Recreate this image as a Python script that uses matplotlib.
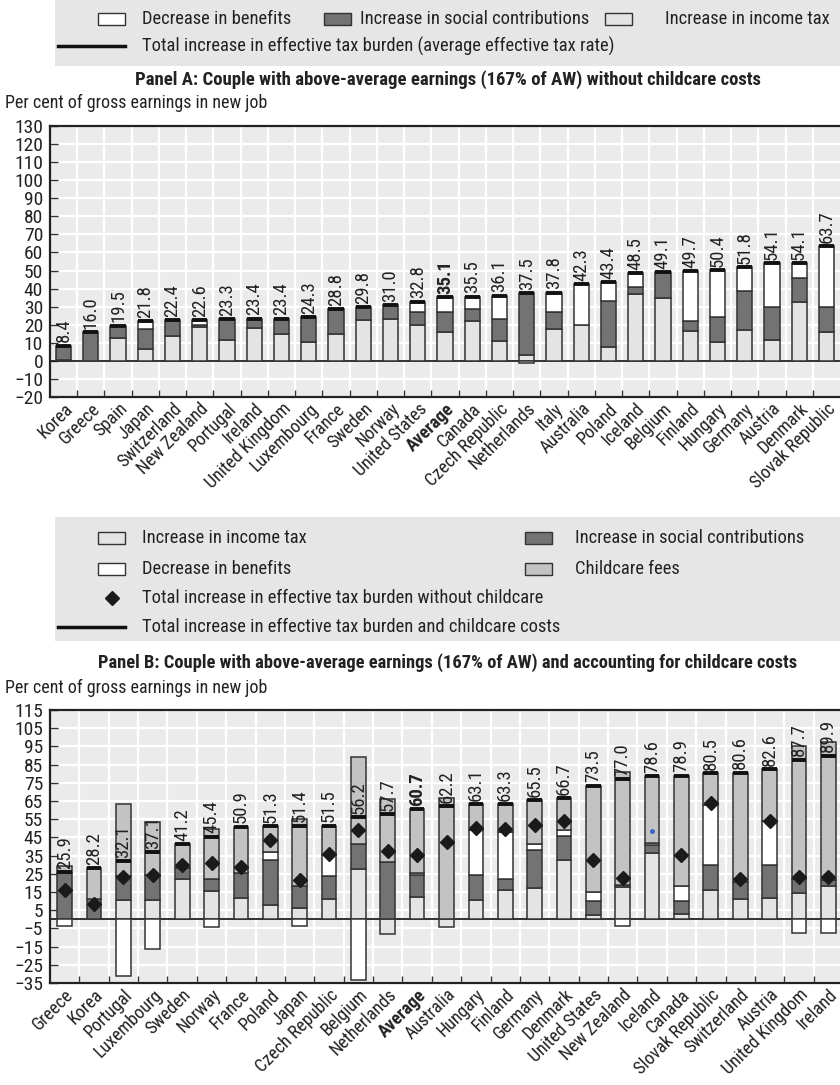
import numpy as np
import matplotlib.pyplot as plt
from matplotlib.patches import Rectangle
from matplotlib.lines import Line2D

plt.rcParams['font.family'] = ['Roboto Condensed', 'Liberation Sans Narrow', 'Roboto', 'DejaVu Sans']
plt.rcParams['text.color'] = '#222222'
plt.rcParams['xtick.color'] = '#222222'
plt.rcParams['ytick.color'] = '#222222'

# Panel A: couple at 167% of AW, no childcare costs
countries_a = ["Korea", "Greece", "Spain", "Japan", "Switzerland", "New Zealand", "Portugal",
               "Ireland", "United Kingdom", "Luxembourg", "France", "Sweden", "Norway",
               "United States", "Average", "Canada", "Czech Republic", "Netherlands", "Italy",
               "Australia", "Poland", "Iceland", "Belgium", "Finland", "Hungary", "Germany",
               "Austria", "Denmark", "Slovak Republic"]
total_a = [8.4, 16.0, 19.5, 21.8, 22.4, 22.6, 23.3, 23.4, 23.4, 24.3, 28.8, 29.8, 31.0, 32.8,
           35.1, 35.5, 36.1, 37.5, 37.8, 42.3, 43.4, 48.5, 49.1, 49.7, 50.4, 51.8, 54.1, 54.1, 63.7]
income_a = [0.7, 0.0, 12.7, 6.3, 13.5, 18.5, 11.3, 18.3, 15.1, 10.5, 15.1, 22.5, 23.0, 19.7,
            15.8, 21.8, 11.1, 3.2, 17.7, 19.6, 7.7, 36.9, 34.7, 16.4, 10.7, 17.3, 11.8, 32.8, 15.9]
social_a = [7.7, 16.0, 6.8, 11.6, 8.9, 1.3, 12.0, 5.1, 8.3, 13.8, 13.7, 7.3, 8.0, 7.6,
            11.4, 6.8, 12.2, 34.3, 9.2, 0.0, 25.6, 4.2, 14.4, 5.7, 13.5, 21.1, 18.1, 12.9, 13.7]
benefit_a = [0.0, 0.0, 0.0, 3.9, 0.0, 2.8, 0.0, 0.0, 0.0, 0.0, 0.0, 0.0, 0.0, 5.5,
             7.9, 6.9, 12.8, -1.2, 10.9, 22.7, 10.1, 7.4, 0.0, 27.6, 26.2, 13.4, 24.2, 8.4, 34.1]

# Panel B: same couple, accounting for childcare costs
countries_b = ["Greece", "Korea", "Portugal", "Luxembourg", "Sweden", "Norway", "France", "Poland",
               "Japan", "Czech Republic", "Belgium", "Netherlands", "Average", "Australia",
               "Hungary", "Finland", "Germany", "Denmark", "United States", "New Zealand",
               "Iceland", "Canada", "Slovak Republic", "Switzerland", "Austria",
               "United Kingdom", "Ireland"]
total_b = [25.9, 28.2, 32.1, 37.1, 41.2, 45.4, 50.9, 51.3, 51.4, 51.5, 56.2, 57.7, 60.7, 62.2,
           63.1, 63.3, 65.5, 66.7, 73.5, 77.0, 78.6, 78.9, 80.5, 80.6, 82.6, 87.7, 89.9]
no_childcare_b = [16.0, 8.4, 23.3, 24.3, 29.8, 31.0, 28.8, 43.4, 21.8, 36.1, 49.1, 37.5, 35.1,
                  42.3, 50.4, 49.7, 51.8, 54.1, 32.8, 22.6, 48.5, 35.5, 63.7, 22.4, 54.1, 23.4, 23.4]
income_b = [0.0, 0.0, 10.8, 10.4, 22.3, 15.6, 11.9, 7.7, 6.4, 11.0, 27.8, -8.2, 12.3, -4.3,
            10.4, 16.3, 17.2, 32.8, 2.2, 17.8, 36.4, 3.1, 15.9, 11.4, 11.7, 14.7, 18.3]
social_b = [25.5, 11.0, 13.0, 14.0, 6.0, 6.7, 13.7, 25.1, 11.7, 12.8, 13.8, 31.5, 11.9, 0.0,
            13.8, 5.7, 20.7, 13.0, 7.9, 1.2, 4.6, 6.8, 13.8, 9.1, 18.0, 7.3, 3.1]
benefit_b = [-3.5, 0.0, -31.3, -16.1, 0.0, -4.2, 0.0, 4.2, -3.8, 11.7, -33.2, 0.0, 1.3, 0.0,
             24.7, 26.0, 3.3, 3.5, 4.9, -3.7, 0.9, 8.4, 33.3, 0.0, 24.3, -7.3, -7.5]
childcare_b = [3.9, 17.2, 39.6, 28.8, 12.9, 27.3, 25.3, 14.3, 37.1, 16.0, 47.8, 34.4, 35.2, 66.5,
               14.2, 15.3, 24.3, 17.4, 58.5, 61.7, 36.7, 60.6, 17.5, 60.1, 28.6, 73.0, 76.0]

C_INCOME = '#e4e4e4'
C_SOCIAL = '#737373'
C_BENEFIT = '#ffffff'
C_CHILD = '#c3c3c3'
C_EDGE = '#333333'
C_BG = '#ebebeb'
W = 840
H = 1085


def stack_bars(ax, x, layers, colors, width):
    pos = np.zeros(len(x))
    neg = np.zeros(len(x))
    for vals, col in zip(layers, colors):
        vals = np.asarray(vals, dtype=float)
        keep = vals != 0
        bottom = np.where(vals >= 0, pos, neg)
        ax.bar(x[keep], vals[keep], width, bottom=bottom[keep], color=col,
               edgecolor=C_EDGE, linewidth=1.1, zorder=3)
        pos += np.clip(vals, 0, None)
        neg += np.clip(vals, None, 0)
    return pos


def style_axes(ax, n, ymin, ymax, step, labels):
    ax.set_facecolor(C_BG)
    ax.set_xlim(-0.5, n - 0.5)
    ax.set_ylim(ymin, ymax)
    ax.set_yticks(np.arange(ymin, ymax + 1, step))
    ax.set_xticks(np.arange(n))
    ax.set_xticks(np.arange(n - 1) + 0.5, minor=True)
    ax.set_axisbelow(True)
    ax.grid(axis='y', which='major', color='white', linewidth=1.6)
    ax.grid(axis='x', which='minor', color='white', linewidth=1.6)
    ax.tick_params(axis='x', which='major', length=0, pad=2, labelsize=13)
    ax.tick_params(axis='x', which='minor', direction='in', length=5, width=1, color='#333333')
    ax.tick_params(axis='y', direction='in', length=6, width=1, color='#333333',
                   labelsize=14, pad=5)
    ax.set_xticklabels(labels, rotation=45, ha='right', rotation_mode='anchor')
    for t in ax.get_xticklabels():
        if t.get_text() == 'Average':
            t.set_fontweight('bold')
    for side in ['top', 'left', 'bottom']:
        ax.spines[side].set_color('#222222')
        ax.spines[side].set_linewidth(1.6)
    ax.spines['right'].set_visible(False)
    ax.axhline(0, color='#111111', linewidth=1.2, zorder=2)


def value_labels(ax, x, totals, names):
    for xi, v, name in zip(x, totals, names):
        ax.text(xi, v + 1.8, f"{v:.1f}", rotation=90, ha='center', va='bottom',
                fontsize=13.5, fontweight='bold' if name == 'Average' else 'normal', zorder=5)


fig = plt.figure(figsize=(W / 100, H / 100), dpi=100)

# legends are laid out on an overlay in pixel coordinates
leg = fig.add_axes([0, 0, 1, 1], zorder=-1)
leg.set_xlim(0, W)
leg.set_ylim(H, 0)
leg.axis('off')


def swatch(x, y, color):
    leg.add_patch(Rectangle((x, y - 6), 27, 12, facecolor=color, edgecolor=C_EDGE, linewidth=1))


FS_LEG = 13.3
leg.add_patch(Rectangle((55, -2), 790, 68, facecolor='#e6e6e6', edgecolor='none'))
swatch(98, 19, C_BENEFIT)
leg.text(142, 19, "Decrease in benefits", va='center', fontsize=FS_LEG)
swatch(324, 19, C_SOCIAL)
leg.text(360, 19, "Increase in social contributions", va='center', fontsize=FS_LEG)
swatch(605, 19, C_INCOME)
leg.text(665, 19, "Increase in income tax", va='center', fontsize=FS_LEG)
leg.add_line(Line2D([58, 125], [46, 46], color='#111111', linewidth=2.5))
leg.text(142, 46, "Total increase in effective tax burden (average effective tax rate)",
         va='center', fontsize=FS_LEG)

leg.add_patch(Rectangle((55, 517), 790, 124, facecolor='#e6e6e6', edgecolor='none'))
swatch(98, 538, C_INCOME)
leg.text(142, 538, "Increase in income tax", va='center', fontsize=FS_LEG)
swatch(525, 538, C_SOCIAL)
leg.text(575, 538, "Increase in social contributions", va='center', fontsize=FS_LEG)
swatch(98, 569, C_BENEFIT)
leg.text(142, 569, "Decrease in benefits", va='center', fontsize=FS_LEG)
swatch(525, 569, C_CHILD)
leg.text(575, 569, "Childcare fees", va='center', fontsize=FS_LEG)
leg.plot([112], [598], marker='D', markersize=7.5, color='#1a1a1a')
leg.text(142, 598, "Total increase in effective tax burden without childcare", va='center', fontsize=FS_LEG)
leg.add_line(Line2D([58, 125], [627, 627], color='#111111', linewidth=2.5))
leg.text(142, 627, "Total increase in effective tax burden and childcare costs", va='center', fontsize=FS_LEG)

# Panel A
fig.text(448 / W, 1 - 80 / H, "Panel A: Couple with above-average earnings (167% of AW) without childcare costs",
         ha='center', va='center', fontsize=13.5, fontweight='bold')
fig.text(5 / W, 1 - 103 / H, "Per cent of gross earnings in new job", va='center', fontsize=13)
ax_a = fig.add_axes([50 / W, 1 - 397 / H, 790 / W, 271 / H])
xa = np.arange(len(countries_a))
style_axes(ax_a, len(countries_a), -20, 130, 10, countries_a)
stack_bars(ax_a, xa, [income_a, social_a, benefit_a], [C_INCOME, C_SOCIAL, C_BENEFIT], 0.56)
ax_a.hlines(total_a, xa - 0.28, xa + 0.28, color='#111111', linewidth=2.8, zorder=4)
value_labels(ax_a, xa, total_a, countries_a)

# Panel B
fig.text(448 / W, 1 - 663 / H,
         "Panel B: Couple with above-average earnings (167% of AW) and accounting for childcare costs",
         ha='center', va='center', fontsize=13.3, fontweight='bold')
fig.text(5 / W, 1 - 688 / H, "Per cent of gross earnings in new job", va='center', fontsize=13)
ax_b = fig.add_axes([50 / W, 1 - 983 / H, 793 / W, 273 / H])
xb = np.arange(len(countries_b))
style_axes(ax_b, len(countries_b), -35, 115, 10, countries_b)
stack_bars(ax_b, xb, [income_b, social_b, benefit_b, childcare_b],
           [C_INCOME, C_SOCIAL, C_BENEFIT, C_CHILD], 0.5)
ax_b.hlines(total_b, xb - 0.25, xb + 0.25, color='#111111', linewidth=2.8, zorder=4)
for xi, v, name in zip(xb, no_childcare_b, countries_b):
    if name == 'Iceland':
        ax_b.plot(xi, v, marker='o', markersize=2.5, color='#3a62c8', zorder=5)
    else:
        ax_b.plot(xi, v, marker='D', markersize=7.5, color='#1a1a1a', zorder=5)
value_labels(ax_b, xb, total_b, countries_b)

fig.savefig('out.png', dpi=100)
